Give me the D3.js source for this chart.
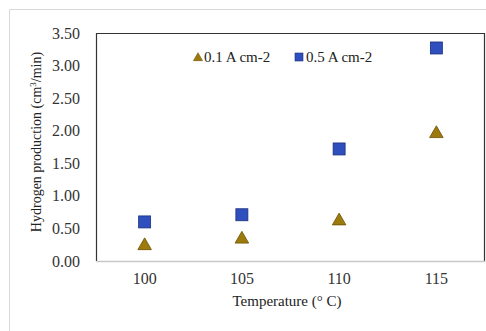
<!DOCTYPE html>
<html>
<head>
<meta charset="utf-8">
<script src="https://cdn.jsdelivr.net/npm/d3@7"></script>
<style>
  body { margin: 0; background: #fff; }
</style>
</head>
<body>
<svg id="chart"></svg>
<script>
// data
var temps = ["100", "105", "110", "115"];
var low = [0.25, 0.35, 0.63, 1.97];   // 0.1 A cm-2
var high = [0.60, 0.71, 1.72, 3.27];  // 0.5 A cm-2
var yTicks = [0, 0.5, 1, 1.5, 2, 2.5, 3, 3.5];
var seriesNames = ["0.1 A cm-2", "0.5 A cm-2"];

var width = 486, height = 331;
var serif = "Liberation Serif";
var svg = d3.select("#chart").attr("width", width).attr("height", height);

// outer frame
svg.append("path")
  .attr("d", "M9.5," + height + "V9.5H" + width)
  .attr("fill", "none")
  .attr("stroke", "#d8d8d8");

// plot area edges (note: "top" is taken by window.top)
var pLeft = 96, pRight = 485, pTop = 33, pBottom = 261;

var x = d3.scaleBand().domain(temps).range([pLeft, pRight]);
var y = d3.scaleLinear().domain([0, 3.5]).range([pBottom, pTop]);

// plot box: dark left/top/right, gray bottom
svg.append("path")
  .attr("d", "M" + (pLeft + 0.5) + "," + pBottom + "V" + (pTop + 0.5) + "H" + (pRight - 0.5) + "V" + pBottom)
  .attr("fill", "none")
  .attr("stroke", "#333")
  .attr("stroke-width", 1.2);

// y axis ticks
var yAxis = svg.append("g")
  .attr("transform", "translate(" + (pLeft - 13) + ",0)")
  .call(d3.axisLeft(y).tickValues(yTicks).tickSize(0).tickFormat(d3.format(".2f")));
yAxis.select(".domain").remove();
yAxis.selectAll("text")
  .attr("font-family", serif).attr("font-size", 16).attr("fill", "#333");

// x axis
var xAxis = svg.append("g")
  .attr("transform", "translate(0," + pBottom + ")")
  .call(d3.axisBottom(x).tickSize(0).tickPadding(12));
xAxis.select(".domain").attr("stroke", "#c8c8c8").attr("stroke-width", 1.5);
xAxis.selectAll("text")
  .attr("font-family", serif).attr("font-size", 16).attr("fill", "#333");

var triColor = "#9c7a0c", triStroke = "#6b5306";
var sqColor = "#2f4fbf", sqStroke = "#1c2f7a";
var tri = d3.symbol().type(d3.symbolTriangle).size(80);

// points
svg.append("g").selectAll("rect")
  .data(high).enter().append("rect")
  .attr("x", function(d, i) { return x(temps[i]) + x.bandwidth() / 2 - 6; })
  .attr("y", function(d) { return y(d) - 6; })
  .attr("width", 12).attr("height", 12)
  .attr("fill", sqColor).attr("stroke", sqStroke).attr("stroke-width", 0.8);

svg.append("g").selectAll("path")
  .data(low).enter().append("path")
  .attr("d", tri)
  .attr("transform", function(d, i) {
    return "translate(" + (x(temps[i]) + x.bandwidth() / 2) + "," + (y(d) + 1) + ")";
  })
  .attr("fill", triColor).attr("stroke", triStroke).attr("stroke-width", 0.8);

// legend
var leg = svg.append("g");
leg.append("path").attr("d", d3.symbol().type(d3.symbolTriangle).size(36))
  .attr("transform", "translate(198,58)")
  .attr("fill", triColor).attr("stroke", triStroke).attr("stroke-width", 0.6);
leg.append("text").attr("x", 204).attr("y", 62).text(seriesNames[0]);
leg.append("rect").attr("x", 295).attr("y", 53).attr("width", 8).attr("height", 8)
  .attr("fill", sqColor).attr("stroke", sqStroke).attr("stroke-width", 0.6);
leg.append("text").attr("x", 306).attr("y", 62).text(seriesNames[1]);
leg.selectAll("text").attr("font-family", serif).attr("font-size", 15).attr("fill", "#222");

// axis titles
svg.append("text")
  .attr("transform", "translate(41,142) rotate(-90)")
  .attr("text-anchor", "middle")
  .attr("font-family", serif)
  .attr("font-size", 14)
  .attr("fill", "#222")
  .html("Hydrogen production (cm<tspan baseline-shift='super' font-size='9'>3</tspan>/min)");

svg.append("text")
  .attr("x", 287).attr("y", 306)
  .attr("text-anchor", "middle")
  .attr("font-family", serif)
  .attr("font-size", 15)
  .attr("fill", "#222")
  .text("Temperature (° C)");
</script>
</body>
</html>
